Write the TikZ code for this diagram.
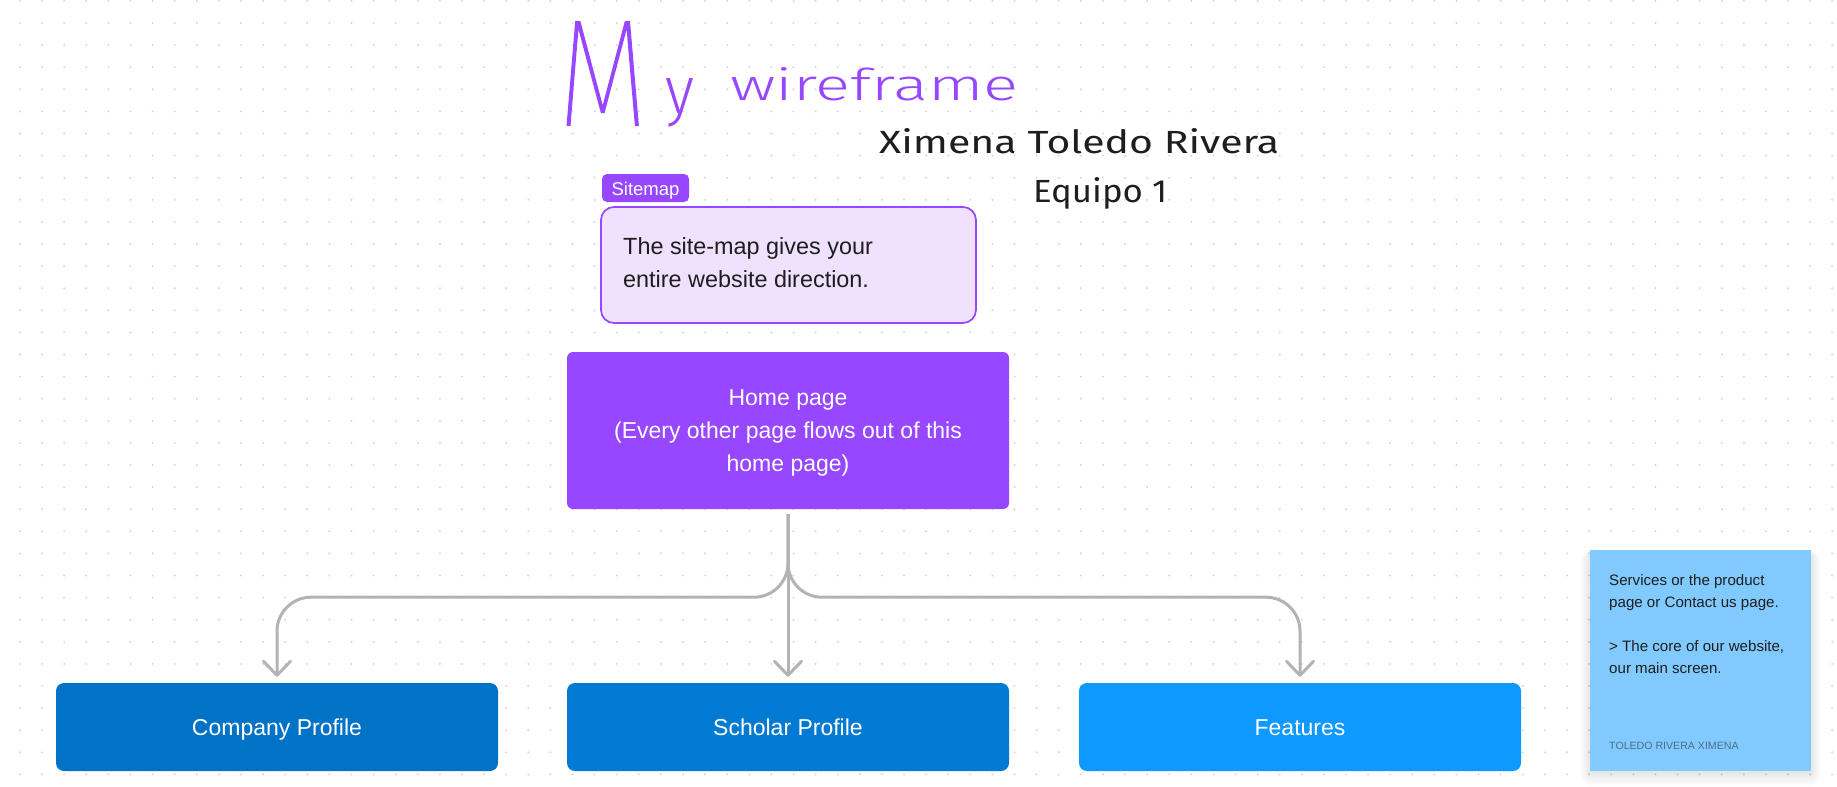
\documentclass[tikz,border=0pt]{standalone}
\usepackage{graphicx}
\usepackage{fontspec}
\setmainfont{Liberation Sans}
\newfontfamily\handthin{Fira Sans Thin}[FakeBold=1.2]
\newfontfamily\handlight{Fira Sans Light}
\newfontfamily\hand{Fira Sans}
\usetikzlibrary{arrows.meta,calc}

\definecolor{figpurple}{HTML}{9747FF}
\definecolor{notefill}{HTML}{F0E2FE}
\definecolor{blueA}{HTML}{0073C7}
\definecolor{blueB}{HTML}{007AD2}
\definecolor{blueC}{HTML}{0D99FF}
\definecolor{stickyblue}{HTML}{80CAFF}
\definecolor{conngray}{HTML}{B3B3B3}
\definecolor{dotgray}{HTML}{D6D6D6}
\definecolor{ink}{HTML}{1E1E1E}
\definecolor{authorgray}{HTML}{4E6B86}

\tikzset{
  pagebox/.style={rounded corners=8pt, minimum width=442pt, minimum height=88pt,
    inner sep=0pt, text=white, text height=17pt, text depth=0pt,
    font=\fontsize{23}{33}\selectfont},
  conn/.style={draw=conngray, line width=3pt, rounded corners=34pt,
    shorten <=5pt, shorten >=6pt,
    -{Straight Barb[length=14pt,width=27pt,line cap=round,line join=round]}},
  hand/.style={anchor=base west, inner sep=0pt},
}

\begin{document}
\begin{tikzpicture}[x=1pt, y=-1pt]
\useasboundingbox (0,0) rectangle (1837,787);
\fill[white] (0,0) rectangle (1837,787);

% dotted canvas
\foreach \i in {0,...,82}
  \foreach \j in {0,...,35}
    \fill[dotgray] (20+22.1*\i, 0.9+22.1*\j) circle (1.1);

% handwritten title and author
\node[hand, text=figpurple] (hwM) at (558,125) {\resizebox{89pt}{103pt}{\handthin M}};
\node[hand, text=figpurple] (hwy) at (665,113) {\resizebox{29pt}{35pt}{\handlight y}};
\node[hand, text=figpurple] (hwwire) at (730,100) {\resizebox{288pt}{33pt}{\handlight wireframe}};
\node[hand, text=ink] (hwname) at (879,153) {\resizebox{400pt}{25pt}{\hand Ximena Toledo Rivera}};
\node[hand, text=ink] (hwteam) at (1033,202) {\resizebox{134pt}{25pt}{\hand Equipo 1}};

% sitemap note
\node[fill=figpurple, rounded corners=5pt, minimum width=87pt, minimum height=28pt,
      inner sep=0pt, text=white, text height=14pt, text depth=0pt,
      font=\fontsize{18.5}{20}\selectfont] (tag) at (645.5,188) {Sitemap};
\node[draw=figpurple, line width=1.7pt, fill=notefill, rounded corners=13pt,
      minimum width=375pt, minimum height=116pt] (sitemap) at (788.5,265) {};
\node[anchor=base west, inner sep=0pt, align=left, text=ink,
      font=\fontsize{23.4}{33}\selectfont] (sitemaptext) at (623,287)
      {The site-map gives your\\entire website direction.};

% home page
\node[fill=figpurple, rounded corners=6pt, minimum width=442pt, minimum height=157pt,
      inner sep=0pt] (home) at (788,430.5) {};
\node[anchor=base, inner sep=0pt, align=center, text=white,
      font=\fontsize{23}{33}\selectfont] (hometext) at (788,471)
      {Home page\\(Every other page flows out of this\\home page)};

% child pages
\node[pagebox, fill=blueA] (company) at (277,727) {Company Profile};
\node[pagebox, fill=blueB] (scholar) at (788,727) {Scholar Profile};
\node[pagebox, fill=blueC] (features) at (1300,727) {Features};

% connectors
\draw[conn] (home.south) -- ++(0,88) -| (company.north);
\draw[conn] (home.south) -- ++(0,88) -| (features.north);
\draw[conn] (home.south) -- (scholar.north);

% soft shadow under the sticky note
\foreach \k in {1,...,12}
  \fill[black, opacity=0.007, rounded corners=\k pt]
    (1590-0.8*\k, 556-0.5*\k) rectangle (1811+0.8*\k, 772+1.2*\k);

% sticky note
\node[fill=stickyblue, minimum width=221pt, minimum height=221pt, inner sep=0pt]
      (sticky) at (1700.5,660.5) {};
\node[anchor=base west, inner sep=0pt, align=left, text=ink,
      font=\fontsize{15.1}{22}\selectfont] (stickytext) at (1609,673)
      {Services or the product\\page or Contact us page.\\[22pt]> The core of our website,\\our main screen.};
\node[anchor=base west, inner sep=0pt, text=authorgray,
      font=\fontsize{10.6}{12}\selectfont] (author) at (1609,749) {TOLEDO RIVERA XIMENA};
\end{tikzpicture}
\end{document}
